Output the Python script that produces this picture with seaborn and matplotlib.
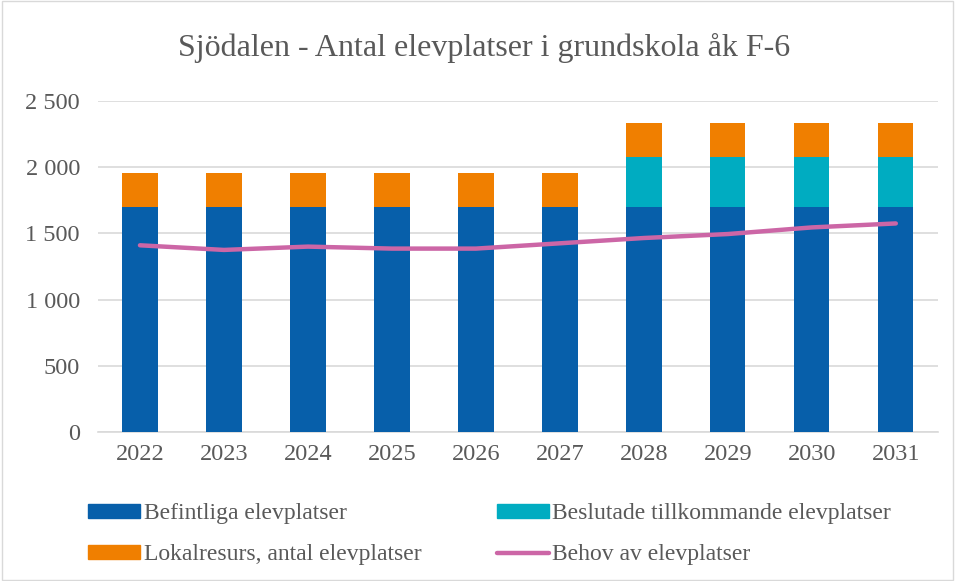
import numpy as np
import pandas as pd
import matplotlib
matplotlib.use("Agg")
import matplotlib.pyplot as plt
from matplotlib.ticker import FuncFormatter
from matplotlib.patches import Patch
from matplotlib.lines import Line2D
import seaborn as sns

years = ['2022', '2023', '2024', '2025', '2026', '2027', '2028', '2029', '2030', '2031']
befintliga = [1700, 1700, 1700, 1700, 1700, 1700, 1700, 1700, 1700, 1700]
beslutade = [0, 0, 0, 0, 0, 0, 380, 380, 380, 380]
lokalresurs = [255, 255, 255, 255, 255, 255, 255, 255, 255, 255]
behov = [1410, 1375, 1400, 1385, 1385, 1425, 1465, 1495, 1545, 1575]

labels = ['Befintliga elevplatser', 'Beslutade tillkommande elevplatser',
          'Lokalresurs, antal elevplatser', 'Behov av elevplatser']
colors = ['#075FAA', '#00ACC1', '#F07F00', '#CC66A6']
text_color = '#595959'

df = pd.DataFrame({'year': years, 'befintliga': befintliga,
                   'beslutade': beslutade, 'lokalresurs': lokalresurs, 'behov': behov})
df['level2'] = df['befintliga'] + df['beslutade']
df['level3'] = df['level2'] + df['lokalresurs']
df['pos'] = np.arange(len(df))

sns.set_theme(style='white')
plt.rcParams['font.family'] = ['Liberation Serif', 'DejaVu Serif']

fig = plt.figure(figsize=(9.55, 5.81), dpi=100)
ax = fig.add_axes([0.1026, 0.2565, 0.8794, 0.5697])

# stacked bars drawn as overlapping cumulative totals
sns.barplot(data=df, x='year', y='level3', color=colors[2], width=0.42,
            saturation=1, linewidth=0, ax=ax, zorder=2)
sns.barplot(data=df, x='year', y='level2', color=colors[1], width=0.42,
            saturation=1, linewidth=0, ax=ax, zorder=3)
sns.barplot(data=df, x='year', y='befintliga', color=colors[0], width=0.42,
            saturation=1, linewidth=0, ax=ax, zorder=4)
sns.lineplot(data=df, x='pos', y='behov', color=colors[3], linewidth=3.2,
             ax=ax, zorder=5)

ax.set_xlim(-0.5, len(years) - 0.5)
ax.set_ylim(0, 2500)
ax.set_yticks([0, 500, 1000, 1500, 2000, 2500])
ax.yaxis.set_major_formatter(FuncFormatter(lambda v, p: f'{int(v):,}'.replace(',', ' ')))
ax.set_xlabel('')
ax.set_ylabel('')
ax.grid(axis='y', color='#D9D9D9', linewidth=1.2, zorder=0)
ax.set_axisbelow(True)
for s in ['top', 'right', 'left']:
    ax.spines[s].set_visible(False)
ax.spines['bottom'].set_color('#D9D9D9')
ax.spines['bottom'].set_linewidth(1.2)
ax.tick_params(axis='both', length=0, labelsize=17.5, labelcolor=text_color)
ax.tick_params(axis='y', pad=13)
ax.tick_params(axis='x', pad=9)

fig.text(0.507, 0.918, 'Sjödalen - Antal elevplatser i grundskola åk F-6',
         ha='center', va='center', fontsize=23, color=text_color)

handles = [Patch(color=colors[0]), Patch(color=colors[2]),
           Patch(color=colors[1]), Line2D([], [], color=colors[3], linewidth=3.2)]
leg_labels = [labels[0], labels[2], labels[1], labels[3]]
fig.legend(handles, leg_labels, ncol=2, loc='upper left', bbox_to_anchor=(0.075, 0.162),
           frameon=False, fontsize=17, labelcolor=text_color, handlelength=2.2,
           handleheight=0.5, handletextpad=0.15, columnspacing=3.2, labelspacing=0.85,
           borderpad=0.2)

fig.patches.append(plt.Rectangle((0.002, 0.002), 0.996, 0.996, transform=fig.transFigure,
                                 fill=False, edgecolor='#D9D9D9', linewidth=1))

fig.savefig('out.png', dpi=100)
